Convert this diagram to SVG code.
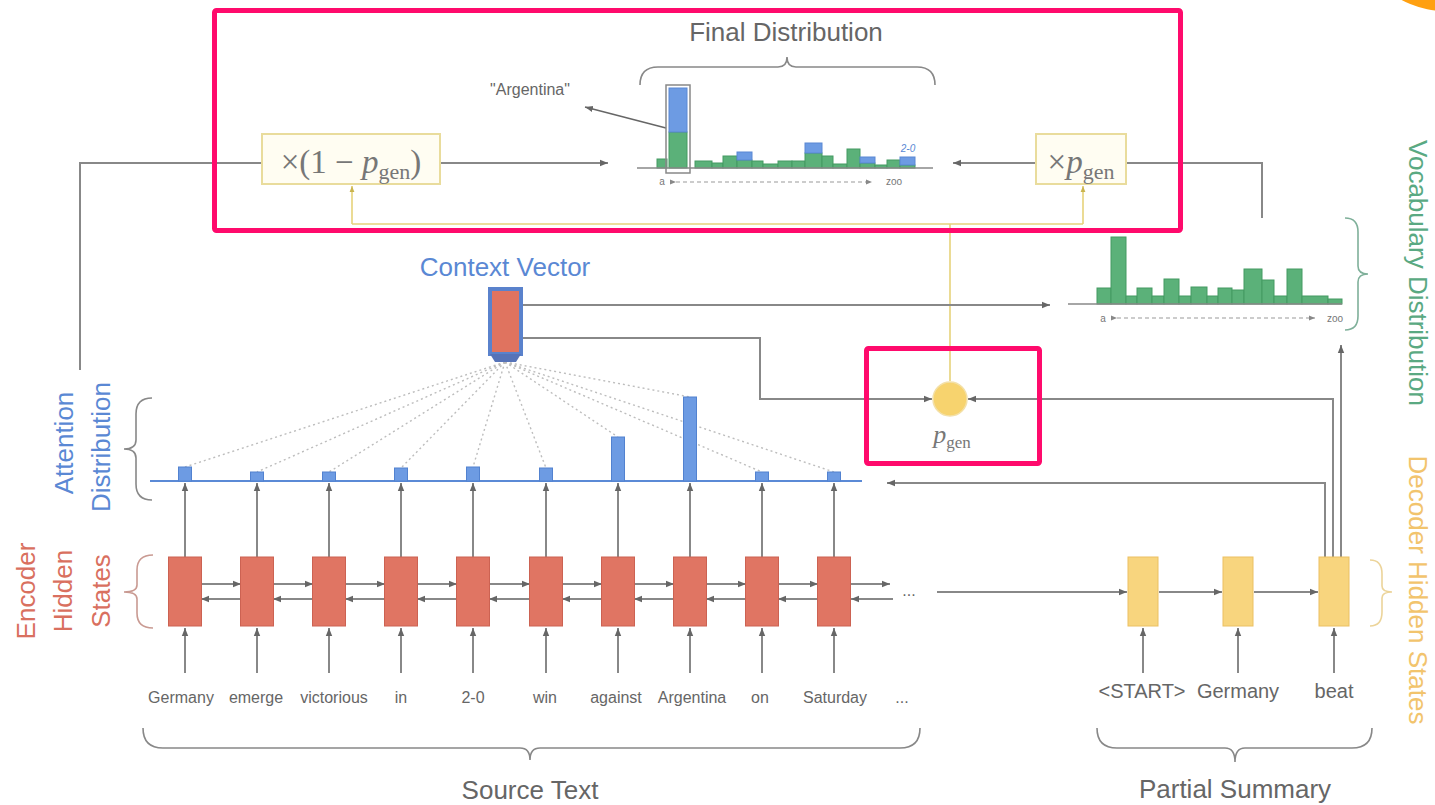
<svg xmlns="http://www.w3.org/2000/svg" width="1435" height="805" viewBox="0 0 1435 805">
<style>
.lbl{font-family:"Liberation Sans",Arial,sans-serif;font-size:26px}
.word{font-family:"Liberation Sans",Arial,sans-serif;font-size:16px;fill:#666}
.dword{font-family:"Liberation Sans",Arial,sans-serif;font-size:20px;fill:#666}
.math{font-family:"Liberation Serif","Times New Roman",serif;fill:#777}
.tiny{font-family:"Liberation Sans",Arial,sans-serif;font-size:10px;fill:#777}
.ln{fill:none;stroke:#888;stroke-width:2}
.yl{fill:none;stroke:#e6d27a;stroke-width:1.6}
.dot{fill:none;stroke:#bdbdbd;stroke-width:1.4;stroke-dasharray:2 3}
.brace{fill:none;stroke:#888;stroke-width:1.6}
.enc{fill:#e07563;stroke:#cc6252;stroke-width:1}
.dec{fill:#f8d57e;stroke:#ebc062;stroke-width:1}
.att{fill:#6d9be3;stroke:#5282d0;stroke-width:1}
.gb{fill:#5bb179;stroke:#449a63;stroke-width:1}
.bb{fill:#6d9be3;stroke:#5a88d4;stroke-width:1}
.mbox{fill:#fffdf2;stroke:#e9dc9c;stroke-width:2}
.pink{fill:none;stroke:#ff0a6c;stroke-width:5}
</style>
<defs>
<marker id="ah" viewBox="0 0 10 10" refX="10" refY="5" markerWidth="8" markerHeight="8" markerUnits="userSpaceOnUse" orient="auto"><path d="M0,1 L10,5 L0,9 z" fill="#666"/></marker>
<marker id="ahy" viewBox="0 0 10 10" refX="10" refY="5" markerWidth="6" markerHeight="6" markerUnits="userSpaceOnUse" orient="auto"><path d="M0,1 L10,5 L0,9 z" fill="#c9b44f"/></marker>
<marker id="ahs" viewBox="0 0 10 10" refX="10" refY="5" markerWidth="6" markerHeight="6" markerUnits="userSpaceOnUse" orient="auto"><path d="M0,1 L10,5 L0,9 z" fill="#888"/></marker>
</defs>
<rect width="1435" height="805" fill="#ffffff"/>
<circle cx="1445" cy="-80" r="91" fill="#ffa011"/>

<g id="connectors">
  <polyline class="ln" points="80,370 80,163 262,163"/>
  <line class="ln" x1="440" y1="163" x2="608" y2="163" marker-end="url(#ah)"/>
  <polyline class="ln" points="1262,218 1262,163 1126,163"/>
  <line class="ln" x1="1036" y1="163" x2="953" y2="163" marker-end="url(#ah)"/>
  <polyline class="yl" points="950,381 950,224"/>
  <line class="yl" x1="352" y1="224" x2="1083" y2="224"/>
  <line class="yl" x1="352" y1="224" x2="352" y2="186" marker-end="url(#ahy)"/>
  <line class="yl" x1="1083" y1="224" x2="1083" y2="186" marker-end="url(#ahy)"/>
  <line class="ln" x1="523" y1="305" x2="1050" y2="305" marker-end="url(#ah)"/>
  <polyline class="ln" points="523,338 760,338 760,399 932,399" marker-end="url(#ah)"/>
  <polyline class="ln" points="1333,558 1333,399 968,399" marker-end="url(#ah)"/>
  <polyline class="ln" points="1325,558 1325,483 887,483" marker-end="url(#ah)"/>
  <line class="ln" x1="1341" y1="558" x2="1341" y2="345" marker-end="url(#ah)"/>
  <line x1="666" y1="128" x2="585" y2="107" stroke="#666" stroke-width="1.5" marker-end="url(#ah)"/>
  <g>
    <line class="dot" x1="505" y1="362" x2="185" y2="467"/>
    <line class="dot" x1="505" y1="362" x2="257" y2="472"/>
    <line class="dot" x1="505" y1="362" x2="329" y2="472"/>
    <line class="dot" x1="505" y1="362" x2="401" y2="468"/>
    <line class="dot" x1="505" y1="362" x2="473" y2="467"/>
    <line class="dot" x1="505" y1="362" x2="546" y2="468"/>
    <line class="dot" x1="505" y1="362" x2="618" y2="437"/>
    <line class="dot" x1="505" y1="362" x2="690" y2="397"/>
    <line class="dot" x1="505" y1="362" x2="762" y2="472"/>
    <line class="dot" x1="505" y1="362" x2="834" y2="472"/>
  </g>
  <g>
    <line class="ln" x1="185" y1="557" x2="185" y2="483" marker-end="url(#ah)"/>
    <line class="ln" x1="257" y1="557" x2="257" y2="483" marker-end="url(#ah)"/>
    <line class="ln" x1="329" y1="557" x2="329" y2="483" marker-end="url(#ah)"/>
    <line class="ln" x1="401" y1="557" x2="401" y2="483" marker-end="url(#ah)"/>
    <line class="ln" x1="473" y1="557" x2="473" y2="483" marker-end="url(#ah)"/>
    <line class="ln" x1="546" y1="557" x2="546" y2="483" marker-end="url(#ah)"/>
    <line class="ln" x1="618" y1="557" x2="618" y2="483" marker-end="url(#ah)"/>
    <line class="ln" x1="690" y1="557" x2="690" y2="483" marker-end="url(#ah)"/>
    <line class="ln" x1="762" y1="557" x2="762" y2="483" marker-end="url(#ah)"/>
    <line class="ln" x1="834" y1="557" x2="834" y2="483" marker-end="url(#ah)"/>
  </g>
  <g>
    <line class="ln" x1="185" y1="673" x2="185" y2="628" marker-end="url(#ah)"/>
    <line class="ln" x1="257" y1="673" x2="257" y2="628" marker-end="url(#ah)"/>
    <line class="ln" x1="329" y1="673" x2="329" y2="628" marker-end="url(#ah)"/>
    <line class="ln" x1="401" y1="673" x2="401" y2="628" marker-end="url(#ah)"/>
    <line class="ln" x1="473" y1="673" x2="473" y2="628" marker-end="url(#ah)"/>
    <line class="ln" x1="546" y1="673" x2="546" y2="628" marker-end="url(#ah)"/>
    <line class="ln" x1="618" y1="673" x2="618" y2="628" marker-end="url(#ah)"/>
    <line class="ln" x1="690" y1="673" x2="690" y2="628" marker-end="url(#ah)"/>
    <line class="ln" x1="762" y1="673" x2="762" y2="628" marker-end="url(#ah)"/>
    <line class="ln" x1="834" y1="673" x2="834" y2="628" marker-end="url(#ah)"/>
    <line class="ln" x1="1143" y1="673" x2="1143" y2="628" marker-end="url(#ah)"/>
    <line class="ln" x1="1238" y1="673" x2="1238" y2="628" marker-end="url(#ah)"/>
    <line class="ln" x1="1334" y1="673" x2="1334" y2="628" marker-end="url(#ah)"/>
  </g>
  <g>
    <line class="ln" x1="201" y1="584" x2="241" y2="584" marker-end="url(#ah)"/>
    <line class="ln" x1="273" y1="584" x2="313" y2="584" marker-end="url(#ah)"/>
    <line class="ln" x1="345" y1="584" x2="385" y2="584" marker-end="url(#ah)"/>
    <line class="ln" x1="417" y1="584" x2="457" y2="584" marker-end="url(#ah)"/>
    <line class="ln" x1="489" y1="584" x2="530" y2="584" marker-end="url(#ah)"/>
    <line class="ln" x1="562" y1="584" x2="602" y2="584" marker-end="url(#ah)"/>
    <line class="ln" x1="634" y1="584" x2="674" y2="584" marker-end="url(#ah)"/>
    <line class="ln" x1="706" y1="584" x2="746" y2="584" marker-end="url(#ah)"/>
    <line class="ln" x1="778" y1="584" x2="818" y2="584" marker-end="url(#ah)"/>
    <line class="ln" x1="850" y1="584" x2="890" y2="584" marker-end="url(#ah)"/>
    <line class="ln" x1="241" y1="599" x2="201" y2="599" marker-end="url(#ah)"/>
    <line class="ln" x1="313" y1="599" x2="273" y2="599" marker-end="url(#ah)"/>
    <line class="ln" x1="385" y1="599" x2="345" y2="599" marker-end="url(#ah)"/>
    <line class="ln" x1="457" y1="599" x2="417" y2="599" marker-end="url(#ah)"/>
    <line class="ln" x1="530" y1="599" x2="489" y2="599" marker-end="url(#ah)"/>
    <line class="ln" x1="602" y1="599" x2="562" y2="599" marker-end="url(#ah)"/>
    <line class="ln" x1="674" y1="599" x2="634" y2="599" marker-end="url(#ah)"/>
    <line class="ln" x1="746" y1="599" x2="706" y2="599" marker-end="url(#ah)"/>
    <line class="ln" x1="818" y1="599" x2="778" y2="599" marker-end="url(#ah)"/>
    <line class="ln" x1="893" y1="599" x2="851" y2="599" marker-end="url(#ah)"/>
  </g>
  <line class="ln" x1="937" y1="592" x2="1127" y2="592" marker-end="url(#ah)"/>
  <line class="ln" x1="1159" y1="592" x2="1222" y2="592" marker-end="url(#ah)"/>
  <line class="ln" x1="1254" y1="592" x2="1318" y2="592" marker-end="url(#ah)"/>
</g>

<g id="final-distribution">
  <text class="lbl" x="786" y="41" text-anchor="middle" fill="#666" font-size="25">Final Distribution</text>
  <path class="brace" d="M640,85 Q640,67 658,67 L778,67 Q787,67 787,57 Q787,67 796,67 L917,67 Q935,67 935,85"/>
  <text class="word" x="530" y="95" text-anchor="middle" font-size="15">"Argentina"</text>
  <g>
    <rect class="gb" x="657" y="159" width="10" height="9"/>
    <rect class="gb" x="669" y="132" width="18" height="36"/>
    <rect class="bb" x="669" y="88" width="18" height="44"/>
    <rect class="gb" x="695" y="161" width="17" height="7"/>
    <rect class="gb" x="712" y="163" width="11" height="5"/>
    <rect class="gb" x="723" y="156" width="14" height="12"/>
    <rect class="gb" x="737" y="160" width="15" height="8"/>
    <rect class="bb" x="737" y="152" width="15" height="8"/>
    <rect class="gb" x="752" y="161" width="11" height="7"/>
    <rect class="gb" x="763" y="164" width="15" height="4"/>
    <rect class="gb" x="778" y="161" width="14" height="7"/>
    <rect class="gb" x="792" y="161" width="13" height="7"/>
    <rect class="gb" x="805" y="153" width="17" height="15"/>
    <rect class="bb" x="805" y="143" width="17" height="10"/>
    <rect class="gb" x="822" y="156" width="11" height="12"/>
    <rect class="gb" x="833" y="164" width="14" height="4"/>
    <rect class="gb" x="847" y="149" width="13" height="19"/>
    <rect class="gb" x="860" y="163" width="15" height="5"/>
    <rect class="bb" x="860" y="157" width="15" height="6"/>
    <rect class="gb" x="875" y="165" width="12" height="3"/>
    <rect class="gb" x="887" y="160" width="13" height="8"/>
    <rect class="gb" x="900" y="165" width="15" height="3"/>
    <rect class="bb" x="900" y="157" width="15" height="8"/>
  </g>
  <line x1="637" y1="168" x2="933" y2="168" stroke="#888" stroke-width="1.5"/>
  <rect x="666" y="85" width="24" height="88" fill="none" stroke="#888" stroke-width="1.5"/>
  <text class="tiny" x="908" y="152" text-anchor="middle" font-style="italic" style="fill:#5a88d4">2-0</text>
  <text class="tiny" x="662" y="185" text-anchor="middle">a</text>
  <line x1="676" y1="182" x2="872" y2="182" stroke="#999" stroke-width="1" stroke-dasharray="4 3" marker-start="url(#ahs)" marker-end="url(#ahs)"/>
  <text class="tiny" x="894" y="185" text-anchor="middle">zoo</text>
</g>

<g id="mult-1-minus-pgen">
  <rect class="mbox" x="262" y="134" width="178" height="50"/>
  <text class="math" x="351" y="173" text-anchor="middle" font-size="33">×(1 − <tspan font-style="italic">p</tspan><tspan font-size="22" dy="6">gen</tspan><tspan dy="-6">)</tspan></text>
</g>

<g id="mult-pgen">
  <rect class="mbox" x="1036" y="134" width="90" height="50"/>
  <text class="math" x="1081" y="173" text-anchor="middle" font-size="33">×<tspan font-style="italic">p</tspan><tspan font-size="22" dy="6">gen</tspan></text>
</g>

<g id="context-vector">
  <text class="lbl" x="505" y="276" text-anchor="middle" fill="#5a88d4" font-size="25">Context Vector</text>
  <rect x="490" y="289" width="31" height="65" fill="#e0735f" stroke="#5a82cc" stroke-width="4"/>
  <polygon points="490,354 521,354 516,362 495,362" fill="#5673b8"/>
</g>

<g id="vocabulary-distribution">
  <g>
    <rect class="gb" x="1097" y="288" width="14" height="16"/>
    <rect class="gb" x="1111" y="237" width="15" height="67"/>
    <rect class="gb" x="1126" y="296" width="11" height="8"/>
    <rect class="gb" x="1137" y="288" width="15" height="16"/>
    <rect class="gb" x="1152" y="296" width="12" height="8"/>
    <rect class="gb" x="1164" y="279" width="15" height="25"/>
    <rect class="gb" x="1179" y="296" width="12" height="8"/>
    <rect class="gb" x="1191" y="287" width="16" height="17"/>
    <rect class="gb" x="1207" y="296" width="11" height="8"/>
    <rect class="gb" x="1218" y="288" width="14" height="16"/>
    <rect class="gb" x="1232" y="290" width="12" height="14"/>
    <rect class="gb" x="1244" y="269" width="18" height="35"/>
    <rect class="gb" x="1262" y="280" width="12" height="24"/>
    <rect class="gb" x="1274" y="296" width="13" height="8"/>
    <rect class="gb" x="1287" y="269" width="15" height="35"/>
    <rect class="gb" x="1302" y="296" width="26" height="8"/>
    <rect class="gb" x="1328" y="299" width="14" height="5"/>
  </g>
  <line x1="1068" y1="304" x2="1342" y2="304" stroke="#888" stroke-width="1.5"/>
  <text class="tiny" x="1103" y="322" text-anchor="middle" font-size="11">a</text>
  <line x1="1117" y1="318" x2="1315" y2="318" stroke="#999" stroke-width="1" stroke-dasharray="4 3" marker-start="url(#ahs)" marker-end="url(#ahs)"/>
  <text class="tiny" x="1335" y="322" text-anchor="middle" font-size="11">zoo</text>
  <path class="brace" style="stroke:#7fb09a" d="M1345,218 Q1358,218 1358,232 L1358,266 Q1358,274 1368,274 Q1358,274 1358,282 L1358,316 Q1358,330 1345,330"/>
  <text class="lbl" transform="translate(1409,273) rotate(90)" text-anchor="middle" fill="#5aa982">Vocabulary Distribution</text>
</g>

<g id="pgen">
  <circle cx="950" cy="399" r="17" fill="#f7d36e" stroke="#f3e0a8" stroke-width="1.5"/>
  <text class="math" x="952" y="443" text-anchor="middle" font-size="26"><tspan font-style="italic">p</tspan><tspan font-size="17" dy="5">gen</tspan></text>
</g>

<g id="attention-distribution">
  <line x1="150" y1="481" x2="862" y2="481" stroke="#5b8ad6" stroke-width="2"/>
  <rect class="att" x="178.5" y="467" width="13" height="14"/>
  <rect class="att" x="250.5" y="472" width="13" height="9"/>
  <rect class="att" x="322.5" y="472" width="13" height="9"/>
  <rect class="att" x="394.5" y="468" width="13" height="13"/>
  <rect class="att" x="466.5" y="467" width="13" height="14"/>
  <rect class="att" x="539.5" y="468" width="13" height="13"/>
  <rect class="att" x="611.5" y="437" width="13" height="44"/>
  <rect class="att" x="683.5" y="397" width="13" height="84"/>
  <rect class="att" x="755.5" y="472" width="13" height="9"/>
  <rect class="att" x="827.5" y="472" width="13" height="9"/>
  <path class="brace" d="M152,398 Q136,398 136,414 L136,440 Q136,449 124,449 Q136,449 136,458 L136,484 Q136,500 152,500"/>
  <text class="lbl" transform="translate(73,443) rotate(-90)" text-anchor="middle" fill="#5a88d4">Attention</text>
  <text class="lbl" transform="translate(110,447) rotate(-90)" text-anchor="middle" fill="#5a88d4">Distribution</text>
</g>

<g id="encoder">
  <rect class="enc" x="168.5" y="557" width="33" height="69"/>
  <rect class="enc" x="240.5" y="557" width="33" height="69"/>
  <rect class="enc" x="312.5" y="557" width="33" height="69"/>
  <rect class="enc" x="384.5" y="557" width="33" height="69"/>
  <rect class="enc" x="456.5" y="557" width="33" height="69"/>
  <rect class="enc" x="529.5" y="557" width="33" height="69"/>
  <rect class="enc" x="601.5" y="557" width="33" height="69"/>
  <rect class="enc" x="673.5" y="557" width="33" height="69"/>
  <rect class="enc" x="745.5" y="557" width="33" height="69"/>
  <rect class="enc" x="817.5" y="557" width="33" height="69"/>
  <text class="word" x="909" y="596" text-anchor="middle" font-size="14">...</text>
  <path class="brace" style="stroke:#c99a92" d="M153,555 Q137,555 137,570 L137,585 Q137,592 124,592 Q137,592 137,599 L137,613 Q137,628 153,628"/>
  <text class="lbl" transform="translate(35,591) rotate(-90)" text-anchor="middle" fill="#d9705f">Encoder</text>
  <text class="lbl" transform="translate(72,591) rotate(-90)" text-anchor="middle" fill="#d9705f">Hidden</text>
  <text class="lbl" transform="translate(110,591) rotate(-90)" text-anchor="middle" fill="#d9705f">States</text>
</g>

<g id="source-text">
  <text class="word" x="181" y="703" text-anchor="middle">Germany</text>
  <text class="word" x="256" y="703" text-anchor="middle">emerge</text>
  <text class="word" x="334" y="703" text-anchor="middle">victorious</text>
  <text class="word" x="401" y="703" text-anchor="middle">in</text>
  <text class="word" x="473" y="703" text-anchor="middle">2-0</text>
  <text class="word" x="545" y="703" text-anchor="middle">win</text>
  <text class="word" x="616" y="703" text-anchor="middle">against</text>
  <text class="word" x="692" y="703" text-anchor="middle">Argentina</text>
  <text class="word" x="760" y="703" text-anchor="middle">on</text>
  <text class="word" x="835" y="703" text-anchor="middle">Saturday</text>
  <text class="word" x="902" y="703" text-anchor="middle">...</text>
  <path class="brace" d="M143,728 Q143,748 163,748 L520,748 Q530,748 530,760 Q530,748 540,748 L900,748 Q920,748 920,728"/>
  <text class="lbl" x="530" y="799" text-anchor="middle" fill="#666">Source Text</text>
</g>

<g id="decoder">
  <rect class="dec" x="1128" y="557" width="30" height="69"/>
  <rect class="dec" x="1223" y="557" width="30" height="69"/>
  <rect class="dec" x="1319" y="557" width="30" height="69"/>
  <path class="brace" style="stroke:#ecd49a" d="M1370,560 Q1382,560 1382,574 L1382,586 Q1382,592 1392,592 Q1382,592 1382,598 L1382,612 Q1382,626 1370,626"/>
  <text class="lbl" transform="translate(1409,590) rotate(90)" text-anchor="middle" fill="#f2c46d">Decoder Hidden States</text>
</g>

<g id="partial-summary">
  <text class="dword" x="1142" y="698" text-anchor="middle">&lt;START&gt;</text>
  <text class="dword" x="1238" y="698" text-anchor="middle">Germany</text>
  <text class="dword" x="1334" y="698" text-anchor="middle">beat</text>
  <path class="brace" d="M1097,728 Q1097,748 1117,748 L1225,748 Q1235,748 1235,762 Q1235,748 1245,748 L1352,748 Q1372,748 1372,728"/>
  <text class="lbl" x="1235" y="798" text-anchor="middle" fill="#666">Partial Summary</text>
</g>

<g id="highlights">
  <rect class="pink" x="214.5" y="10.5" width="966" height="220" rx="2"/>
  <rect class="pink" x="866.5" y="348.5" width="173" height="115" rx="2"/>
</g>
</svg>
